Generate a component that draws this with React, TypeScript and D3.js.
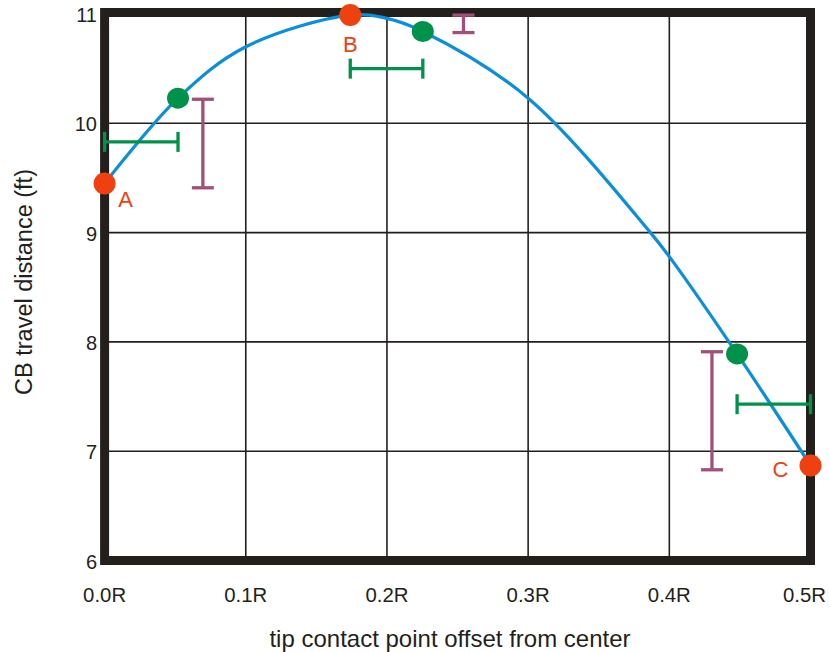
import { useEffect, useRef } from 'react';
import * as d3 from 'd3';

// curve: [offset (fraction of R), travel distance ft]
const curveX = [0, 0.052, 0.1, 0.174, 0.2, 0.2254, 0.3, 0.3866, 0.4, 0.448, 0.5];
const curveY = [9.45, 10.23, 10.7, 10.99, 10.96, 10.84, 10.23, 9.0, 8.78, 7.89, 6.87];

// labelled red points A, B, C
const redLabels = ['A', 'B', 'C'];
const redX = [0, 0.174, 0.5];
const redY = [9.45, 10.99, 6.87];

// green points
const greenX = [0.052, 0.2254, 0.448];
const greenY = [10.23, 10.84, 7.89];

// green horizontal bars: from x0 to x1 at level y
const hBarX0 = [0, 0.174, 0.448];
const hBarX1 = [0.052, 0.2254, 0.5];
const hBarY = [9.83, 10.5, 7.43];

// purple vertical bars: at x from y0 to y1
const vBarX = [0.0696, 0.2542, 0.4302];
const vBarY0 = [10.22, 10.99, 7.91];
const vBarY1 = [9.41, 10.83, 6.83];

const xTicks = [0, 0.1, 0.2, 0.3, 0.4, 0.5];
const xTickLabels = ['0.0R', '0.1R', '0.2R', '0.3R', '0.4R', '0.5R'];
const yTicks = [6, 7, 8, 9, 10, 11];

const W = 830;
const H = 652;
const FONT = 'Liberation Sans, Arial, sans-serif';

const App = () => {
  const svgRef = useRef<SVGSVGElement | null>(null);

  useEffect(() => {
    if (!svgRef.current) return;
    const svg = d3.select(svgRef.current);
    svg.selectAll('*').remove();

    const x = d3.scaleLinear().domain([0, 0.5]).range([104.6, 810.5]);
    const y = d3.scaleLinear().domain([6, 11]).range([560.5, 14]);

    // grid
    const grid = svg.append('g').attr('stroke', '#231f1c').attr('stroke-width', 1.6);
    grid
      .selectAll('line.v')
      .data(xTicks.slice(1, -1))
      .enter()
      .append('line')
      .attr('x1', d => x(d))
      .attr('x2', d => x(d))
      .attr('y1', y(11))
      .attr('y2', y(6));
    grid
      .selectAll('line.h')
      .data(yTicks.slice(1, -1))
      .enter()
      .append('line')
      .attr('x1', x(0))
      .attr('x2', x(0.5))
      .attr('y1', d => y(d))
      .attr('y2', d => y(d));

    // frame
    svg
      .append('rect')
      .attr('x', x(0))
      .attr('y', y(11) - 1.5)
      .attr('width', x(0.5) - x(0))
      .attr('height', y(6) - y(11) + 1.5)
      .attr('fill', 'none')
      .attr('stroke', '#231f1c')
      .attr('stroke-width', 9);

    // curve
    const pts = curveX.map((d, i) => [d, curveY[i]] as [number, number]);
    const line = d3
      .line<[number, number]>()
      .x(d => x(d[0]))
      .y(d => y(d[1]))
      .curve(d3.curveCatmullRom.alpha(0.5));
    svg
      .append('path')
      .attr('d', line(pts))
      .attr('fill', 'none')
      .attr('stroke', '#0a8fdc')
      .attr('stroke-width', 3.2);

    // green horizontal bars
    const green = '#00914a';
    const hb = svg.append('g').attr('stroke', green).attr('stroke-width', 3.3);
    hBarY.forEach((v, i) => {
      hb.append('line')
        .attr('x1', x(hBarX0[i]))
        .attr('x2', x(hBarX1[i]))
        .attr('y1', y(v))
        .attr('y2', y(v));
      [hBarX0[i], hBarX1[i]].forEach(e => {
        hb.append('line')
          .attr('x1', x(e))
          .attr('x2', x(e))
          .attr('y1', y(v) - 10)
          .attr('y2', y(v) + 10);
      });
    });

    // purple vertical bars
    const purple = '#a0507a';
    const vb = svg.append('g').attr('stroke', purple).attr('stroke-width', 3.3);
    vBarX.forEach((v, i) => {
      vb.append('line')
        .attr('x1', x(v))
        .attr('x2', x(v))
        .attr('y1', y(vBarY0[i]))
        .attr('y2', y(vBarY1[i]));
      [vBarY0[i], vBarY1[i]].forEach(e => {
        vb.append('line')
          .attr('x1', x(v) - 11)
          .attr('x2', x(v) + 11)
          .attr('y1', y(e))
          .attr('y2', y(e));
      });
    });

    // points
    svg
      .selectAll('circle.g')
      .data(greenX)
      .enter()
      .append('ellipse')
      .attr('cx', d => x(d))
      .attr('cy', (d, i) => y(greenY[i]))
      .attr('rx', 11)
      .attr('ry', 10.5)
      .attr('fill', green);

    const red = '#ef4010';
    svg
      .selectAll('circle.r')
      .data(redX)
      .enter()
      .append('ellipse')
      .attr('cx', d => x(d))
      .attr('cy', (d, i) => y(redY[i]))
      .attr('rx', 11)
      .attr('ry', 11)
      .attr('fill', red);

    const labelDx = [21, 0, -30];
    const labelDy = [24, 37, 12];
    svg
      .selectAll('text.lbl')
      .data(redLabels)
      .enter()
      .append('text')
      .attr('x', (d, i) => x(redX[i]) + labelDx[i])
      .attr('y', (d, i) => y(redY[i]) + labelDy[i])
      .attr('text-anchor', 'middle')
      .attr('fill', red)
      .style('font-family', FONT)
      .style('font-size', '22px')
      .text(d => d);

    // tick labels (the original face is a little condensed)
    svg
      .selectAll('text.xt')
      .data(xTicks)
      .enter()
      .append('text')
      .attr('x', (d, i) => x(d) - (i === xTicks.length - 1 ? 6 : 0))
      .attr('y', 601.5)
      .attr('text-anchor', 'middle')
      .attr('textLength', 43)
      .attr('lengthAdjust', 'spacingAndGlyphs')
      .attr('fill', '#231f20')
      .style('font-family', FONT)
      .style('font-size', '20px')
      .text((d, i) => xTickLabels[i]);

    svg
      .selectAll('text.yt')
      .data(yTicks)
      .enter()
      .append('text')
      .attr('x', 97)
      .attr('y', d => y(d) + 8)
      .attr('text-anchor', 'end')
      .attr('fill', '#231f20')
      .style('font-family', FONT)
      .style('font-size', '20px')
      .text(d => d);

    // axis titles
    svg
      .append('text')
      .attr('x', 450)
      .attr('y', 647)
      .attr('text-anchor', 'middle')
      .attr('fill', '#231f20')
      .style('font-family', FONT)
      .style('font-size', '24px')
      .text('tip contact point offset from center');

    svg
      .append('text')
      .attr('transform', 'translate(32, 282) rotate(-90)')
      .attr('text-anchor', 'middle')
      .attr('fill', '#231f20')
      .style('font-family', FONT)
      .style('font-size', '23.5px')
      .text('CB travel distance (ft)');
  }, []);

  return (
    <div style={{ position: 'absolute', left: 0, top: 0 }}>
      <svg ref={svgRef} width={W} height={H} style={{ display: 'block', background: '#fff' }} />
    </div>
  );
};

export default App;
